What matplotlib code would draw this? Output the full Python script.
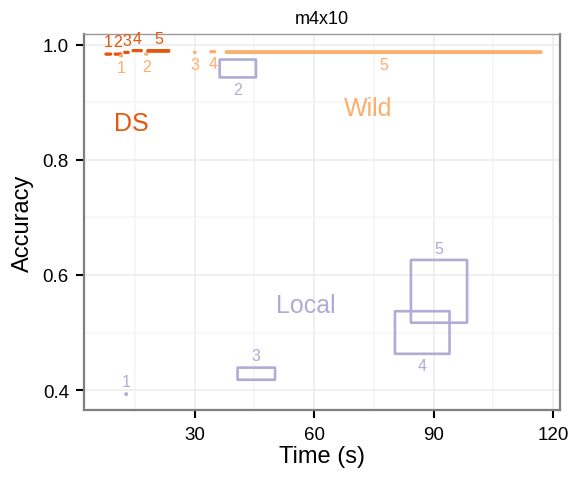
import matplotlib
matplotlib.use("Agg")
import matplotlib.pyplot as plt
from matplotlib.patches import Rectangle
from matplotlib.ticker import MultipleLocator

plt.rcParams["font.family"] = ["Liberation Sans", "DejaVu Sans"]

# time (s) and accuracy ranges for configs 1..5 in each setting
config_ids = ["1", "2", "3", "4", "5"]

ds_tmin = [7.7, 10.0, 12.4, 14.5, 18.2]
ds_tmax = [9.0, 11.5, 13.4, 16.7, 23.6]
ds_amin = [0.983, 0.983, 0.986, 0.989, 0.988]
ds_amax = [0.984, 0.984, 0.987, 0.990, 0.990]

wild_tmin = [11.35, 17.65, 29.9, 34.0, 37.9]
wild_tmax = [11.75, 18.05, 30.2, 35.1, 117.0]
wild_amin = [0.980, 0.983, 0.986, 0.987, 0.986]
wild_amax = [0.981, 0.984, 0.987, 0.988, 0.988]

local_tmin = [12.7, 36.3, 40.8, 80.3, 84.3]
local_tmax = [12.95, 45.4, 50.2, 94.0, 98.4]
local_amin = [0.392, 0.943, 0.418, 0.463, 0.517]
local_amax = [0.394, 0.974, 0.439, 0.537, 0.626]

group_names = ["DS", "Wild", "Local"]
group_label_x = [14.2, 73.5, 57.9]
group_label_y = [0.864, 0.889, 0.548]

colors = {"DS": "#e6550d", "Wild": "#fdae6b", "Local": "#b1acd5"}
# +1 label above the box, -1 below
label_side = {
    "DS": [1, 1, 1, 1, 1],
    "Wild": [-1, -1, -1, -1, -1],
    "Local": [1, -1, 1, -1, 1],
}

groups = {
    "DS": (ds_tmin, ds_tmax, ds_amin, ds_amax),
    "Wild": (wild_tmin, wild_tmax, wild_amin, wild_amax),
    "Local": (local_tmin, local_tmax, local_amin, local_amax),
}

fig = plt.figure(figsize=(5.69, 4.81), dpi=100)
ax = fig.add_axes([0.148, 0.145, 0.836, 0.783])

for name, (t0, t1, a0, a1) in groups.items():
    col = colors[name]
    for i, cid in enumerate(config_ids):
        ax.add_patch(Rectangle((t0[i], a0[i]), t1[i] - t0[i], a1[i] - a0[i],
                               fill=False, edgecolor=col, lw=1.9, snap=False,
                               joinstyle="round", capstyle="round", zorder=3))
        side = label_side[name][i]
        ya = a1[i] if side > 0 else a0[i]
        ax.annotate(cid, ((t0[i] + t1[i]) / 2, ya), xytext=(0, 8.5 * side),
                    textcoords="offset points", ha="center", va="center",
                    color=col, fontsize=11.5, zorder=4)

for name, gx, gy in zip(group_names, group_label_x, group_label_y):
    ax.text(gx, gy, name, color=colors[name], fontsize=18, ha="center", va="center")

ax.set_xlim(2.3, 121.7)
ax.set_ylim(0.365, 1.019)
ax.xaxis.set_major_locator(MultipleLocator(30))
ax.xaxis.set_minor_locator(MultipleLocator(15))
ax.yaxis.set_minor_locator(MultipleLocator(0.1))
ax.set_yticks([0.4, 0.6, 0.8, 1.0])
ax.set_yticklabels(["0.4", "0.6", "0.8", "1.0"])
ax.grid(which="major", color="#ebebeb", lw=1.1)
ax.grid(which="minor", color="#f5f5f5", lw=1.1)
ax.set_axisbelow(True)
ax.tick_params(which="major", direction="out", length=6, width=1.5, color="black",
               labelsize=13.5, pad=5, labelcolor="black")
ax.tick_params(which="minor", length=0)
for s in ["left", "bottom", "right"]:
    ax.spines[s].set_color("#7f7f7f")
    ax.spines[s].set_linewidth(1.6)
ax.spines["top"].set_color("#999999")
ax.spines["top"].set_linewidth(1.0)

ax.set_xlabel("Time (s)", fontsize=17, labelpad=2)
ax.set_ylabel("Accuracy", fontsize=17, labelpad=6)
ax.set_title("m4x10", fontsize=13, pad=8)

fig.savefig("out.png", dpi=100)
